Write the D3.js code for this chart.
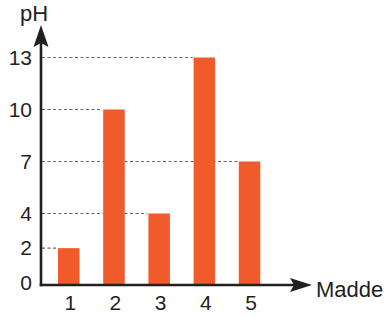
<!DOCTYPE html>
<html lang="en">
<head>
    <meta charset="UTF-8">
    <title>pH of substances</title>
    <script src="https://d3js.org/d3.v7.min.js"></script>
    <style>
        body { margin: 0; background: #fff; }
        svg { display: block; font-family: "Liberation Sans", Arial, sans-serif; }
    </style>
</head>
<body>
    <svg width="389" height="320"></svg>
    <script>
        const categories = ['1', '2', '3', '4', '5'];
        const values = [2, 10, 4, 13, 7];
        const yTicks = [0, 2, 4, 7, 10, 13];
        const yLabel = 'pH';
        const xLabel = 'Madde';

        const svg = d3.select('svg');
        const textColor = '#231f20';
        const axisX = 41, axisY = 285;

        const x = d3.scaleBand().domain(categories).range([42, 276.3])
            .paddingInner(0.524).paddingOuter(0.354);
        const y = d3.scaleLinear().domain([0, 13]).range([282.8, 57.5]);

        // dashed guide lines from the axis to the bar with that value
        yTicks.filter(t => t > 0).forEach(t => {
            const i = values.indexOf(t);
            if (i < 0) return;
            svg.append('line')
                .attr('x1', axisX + 1).attr('x2', x(categories[i]) - 1)
                .attr('y1', y(t)).attr('y2', y(t))
                .attr('stroke', '#666').attr('stroke-width', 1.1)
                .attr('stroke-dasharray', '3,2.5');
        });

        svg.selectAll('rect.bar')
            .data(values)
            .enter()
            .append('rect')
            .attr('class', 'bar')
            .attr('x', (d, i) => x(categories[i]))
            .attr('y', d => y(d))
            .attr('width', x.bandwidth())
            .attr('height', d => axisY - y(d))
            .attr('fill', '#f15a2b');

        // y tick labels
        const yAxis = svg.append('g').attr('transform', `translate(${axisX},0)`)
            .call(d3.axisLeft(y).tickValues(yTicks).tickSize(0).tickPadding(9));
        yAxis.select('.domain').remove();
        yAxis.selectAll('text').attr('font-size', 21).attr('fill', textColor)
            .attr('font-family', '"Liberation Sans", Arial, sans-serif');

        // x tick labels
        const xAxis = svg.append('g').attr('transform', `translate(0,${axisY})`)
            .call(d3.axisBottom(x).tickSize(0).tickPadding(10));
        xAxis.select('.domain').remove();
        xAxis.selectAll('text').attr('font-size', 21).attr('fill', textColor)
            .attr('dx', 1.5)
            .attr('font-family', '"Liberation Sans", Arial, sans-serif');

        // axis lines with arrowheads
        svg.append('line').attr('x1', axisX).attr('x2', axisX)
            .attr('y1', axisY + 1.25).attr('y2', 40)
            .attr('stroke', textColor).attr('stroke-width', 2.6);
        svg.append('line').attr('x1', axisX - 1.3).attr('x2', 296)
            .attr('y1', axisY).attr('y2', axisY)
            .attr('stroke', textColor).attr('stroke-width', 2.6);
        svg.append('path')
            .attr('d', `M${axisX},25 L${axisX + 7.5},47 L${axisX},43 L${axisX - 7.5},47 Z`)
            .attr('fill', textColor);
        svg.append('path')
            .attr('d', `M312,${axisY} L290,${axisY - 7} L294,${axisY} L290,${axisY + 7} Z`)
            .attr('fill', textColor);

        svg.append('text').attr('x', 20).attr('y', 20.5)
            .attr('font-size', 22).attr('fill', textColor).text(yLabel);
        svg.append('text').attr('x', 316).attr('y', 296.5)
            .attr('font-size', 22).attr('fill', textColor).text(xLabel);
    </script>
</body>
</html>
